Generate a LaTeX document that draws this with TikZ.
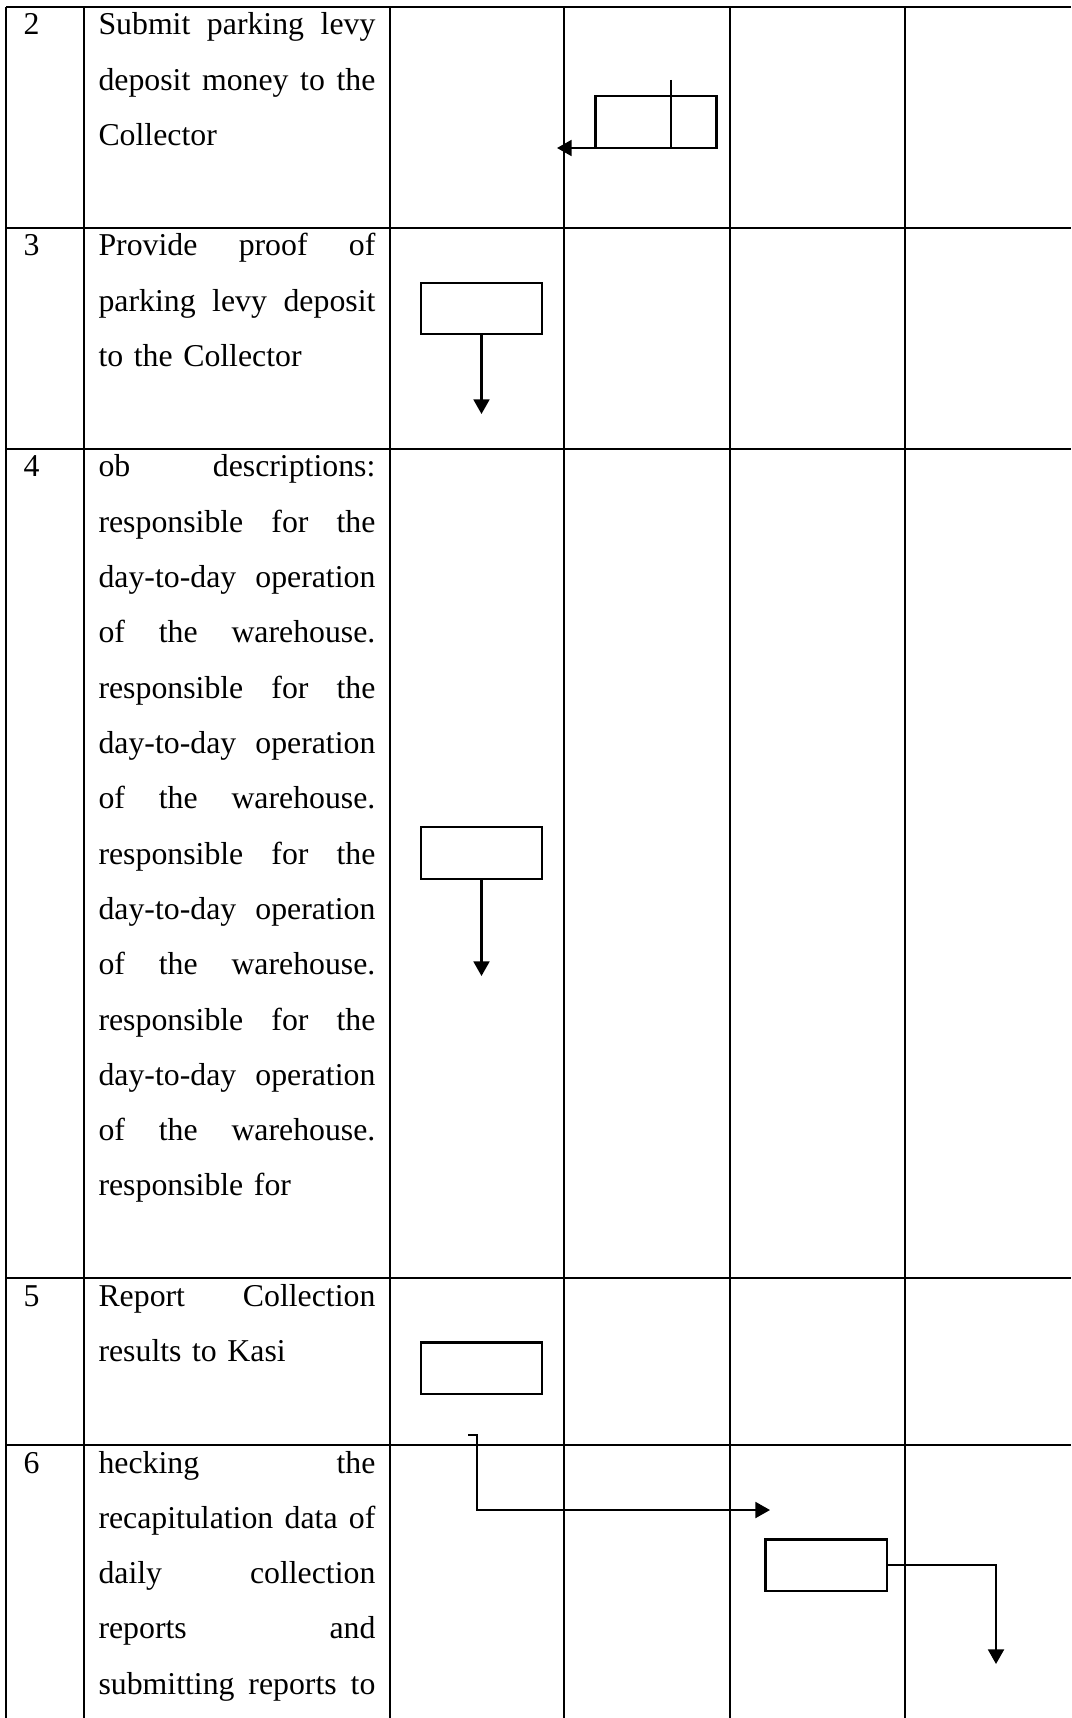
\documentclass[tikz,border=0pt]{standalone}
\usepackage{fontspec}
\setmainfont{Liberation Serif}
\usetikzlibrary{arrows.meta,positioning}
\newcommand{\jl}[1]{\leavevmode{\spaceskip=\fontdimen2\font plus 1fil\relax\hbox to 104.5pt{#1}}}
\tikzset{
  gridline/.style ={line width=0.6pt},
  numcell/.style  ={anchor=base west,inner sep=0pt,font=\fontsize{12}{20.87}\selectfont},
  desc/.style     ={anchor=base west,inner sep=0pt,align=left,text width=104.5pt,
                    font=\fontsize{12}{20.87}\selectfont},
  act/.style      ={draw,line width=0.8pt,minimum width=45.7pt,minimum height=19.3pt,inner sep=0pt},
  arrow/.style    ={-{Triangle[length=5.5pt,width=6pt]},line width=0.8pt}
}

\begin{document}
\begin{tikzpicture}[x=0.3774pt,y=-0.3774pt]
    \useasboundingbox (0,0) rectangle (1071,1718);
    % table
    \foreach \gx in {6,84,390,564,730,905}
      \draw[gridline] (\gx,7) -- (\gx,1718);
    \foreach \gy in {7,228,449,1278,1445}
      \draw[gridline] (6,\gy) -- (1071,\gy);
    % step numbers
    \node[numcell] (n2) at (23,35)   {2};
    \node[numcell] (n3) at (23,256)  {3};
    \node[numcell] (n4) at (23,477)  {4};
    \node[numcell] (n5) at (23,1306) {5};
    \node[numcell] (n6) at (23,1473) {6};
    % descriptions
    \node[desc] (d2) at (98,35) {\jl{Submit parking levy}\\\jl{deposit money to the}\\Collector};
    \node[desc] (d3) at (98,256) {\jl{Provide proof of}\\\jl{parking levy deposit}\\to the Collector};
    \node[desc] (d4) at (98,477) {\jl{ob descriptions:}\\\jl{responsible for the}\\\jl{day-to-day operation}\\\jl{of the warehouse.}\\
      \jl{responsible for the}\\\jl{day-to-day operation}\\\jl{of the warehouse.}\\
      \jl{responsible for the}\\\jl{day-to-day operation}\\\jl{of the warehouse.}\\
      \jl{responsible for the}\\\jl{day-to-day operation}\\\jl{of the warehouse.}\\responsible for};
    \node[desc] (d5) at (98,1306) {\jl{Report Collection}\\results to Kasi};
    \node[desc] (d6) at (98,1473) {\jl{hecking the}\\\jl{recapitulation data of}\\\jl{daily collection}\\\jl{reports and}\\\jl{submitting reports to}};
    % flow boxes
    \node[act] (b2) at (656,122)    {};
    \node[act] (b3) at (481.5,308.5) {};
    \node[act] (b4) at (481.5,853)  {};
    \node[act] (b5) at (481.5,1368) {};
    \node[act] (b6) at (826,1565)   {};
    \coordinate (s2) at (671,80);
    \coordinate (e2) at (557,148);
    \coordinate (e3) at (481.5,414);
    \coordinate (e4) at (481.5,976);
    \coordinate (s6) at (468,1435);
    \coordinate (k6) at (477,1435);
    \coordinate (m6) at (770,1510);
    \coordinate (e6) at (996,1664);
    \draw[arrow] (s2) |- (e2);
    \draw[arrow] (b3.south) -- (e3);
    \draw[arrow] (b4.south) -- (e4);
    \draw[arrow] (s6) -- (k6) |- (m6);
    \draw[arrow] (b6.east) -| (e6);
  \end{tikzpicture}
\end{document}
